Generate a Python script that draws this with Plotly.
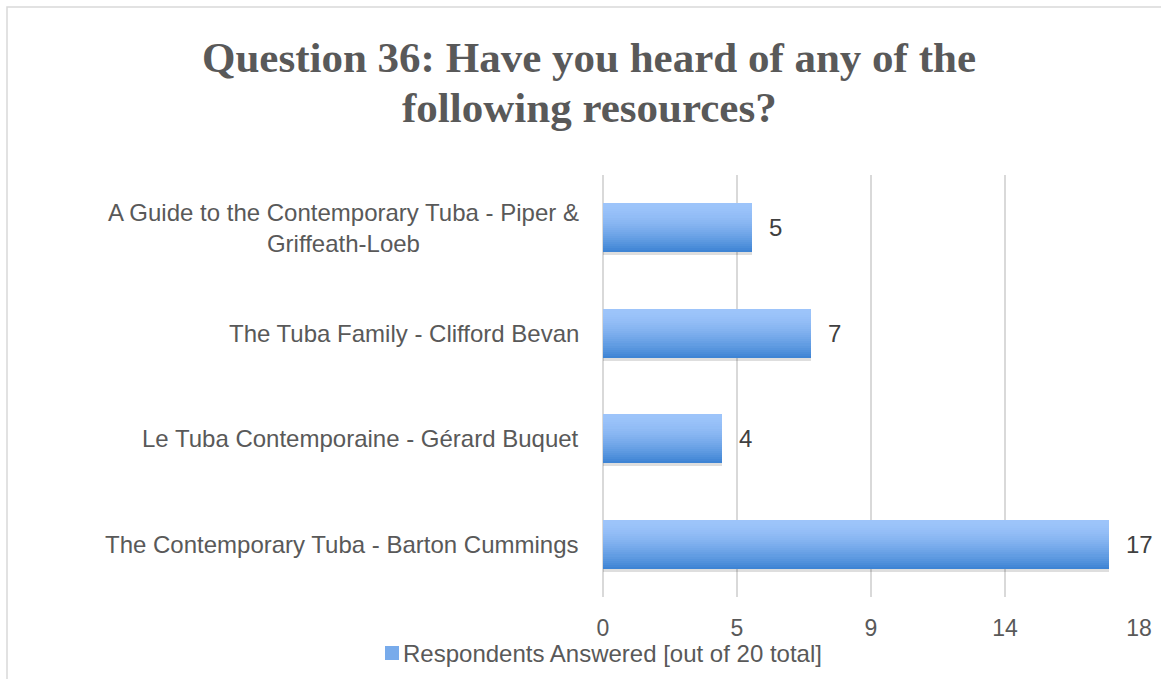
import plotly.graph_objects as go

# Survey data (top to bottom as shown)
resources = [
    "A Guide to the Contemporary Tuba - Piper &<br>Griffeath-Loeb",
    "The Tuba Family - Clifford Bevan",
    "Le Tuba Contemporaine - Gérard Buquet",
    "The Contemporary Tuba - Barton Cummings",
]
respondents = [5, 7, 4, 17]
tick_vals = [0, 4.5, 9, 13.5, 18]
tick_text = ["0", "5", "9", "14", "18"]
series_name = "Respondents Answered [out of 20 total]"
title_lines = ["Question 36: Have you heard of any of the", "following resources?"]

W, H = 1161, 679
ML, MR, MT, MB = 603, 22, 175, 82
PW, PH = W - ML - MR, H - MT - MB
BAR_W = 0.465
N_STRIPS = 24

TOP = (157, 196, 250)
BOTTOM = (62, 132, 212)
SANS = "Liberation Sans, Arial, sans-serif"


def blend(t):
    # light for most of the bar, darkening toward the lower edge
    t = t ** 1.6
    return "rgb({},{},{})".format(*[round(a + (b - a) * t) for a, b in zip(TOP, BOTTOM)])


def px_x(px):
    return (px - ML) / PW


def px_y(py):
    return (H - MB - py) / PH


fig = go.Figure()

# soft drop shadow under each bar
fig.add_trace(go.Bar(
    x=respondents, y=resources, orientation="h",
    width=BAR_W, offset=-BAR_W / 2 + 0.03,
    marker=dict(color="rgba(0,0,0,0.13)", line=dict(width=0)),
    showlegend=False, hoverinfo="skip",
))

# vertical gradient built from thin horizontal strips
strip = BAR_W / N_STRIPS
for i in range(N_STRIPS):
    fig.add_trace(go.Bar(
        x=respondents, y=resources, orientation="h",
        width=strip * 1.05, offset=-BAR_W / 2 + i * strip,
        marker=dict(color=blend(i / (N_STRIPS - 1)), line=dict(width=0)),
        name=series_name,
        showlegend=False,
        hoverinfo="x+y" if i == 0 else "skip",
    ))

# value labels beside each bar
for cat, val in zip(resources, respondents):
    fig.add_annotation(
        x=val, y=cat, xref="x", yref="y", text=str(val),
        showarrow=False, xanchor="left", xshift=15,
        font=dict(family=SANS, size=24, color="#404040"),
    )

# category labels, centred line-by-line and right-aligned to the axis
for cat in resources:
    fig.add_annotation(
        x=0, y=cat, xref="paper", yref="y", text=cat,
        showarrow=False, xanchor="right", xshift=-22, align="center",
        font=dict(family=SANS, size=24, color="#595959"),
    )

# title, one annotation per line
for line, cy in zip(title_lines, [58, 108]):
    fig.add_annotation(
        x=px_x(589), y=px_y(cy), xref="paper", yref="paper", text=f"<b>{line}</b>",
        showarrow=False, xanchor="center", yanchor="middle",
        font=dict(family="Liberation Serif, Times New Roman, serif", size=43, color="#595959"),
    )

# legend: swatch plus series name
fig.add_shape(
    type="rect", xref="paper", yref="paper",
    x0=px_x(385), x1=px_x(399), y0=px_y(660), y1=px_y(646),
    line=dict(width=0), fillcolor=blend(0.55),
)
fig.add_annotation(
    x=px_x(401), y=px_y(653), xref="paper", yref="paper", text=series_name,
    showarrow=False, xanchor="left", yanchor="middle",
    font=dict(family=SANS, size=24, color="#595959"),
)

# outer chart frame
fig.add_shape(
    type="rect", xref="paper", yref="paper",
    x0=px_x(7), x1=px_x(W + 5), y0=px_y(H + 5), y1=px_y(7),
    line=dict(color="#D9D9D9", width=1.5), fillcolor="rgba(0,0,0,0)", layer="below",
)

fig.update_layout(
    width=W, height=H,
    margin=dict(l=ML, r=MR, t=MT, b=MB, autoexpand=False),
    paper_bgcolor="white", plot_bgcolor="white",
    barmode="overlay", bargap=0,
    showlegend=False,
    xaxis=dict(
        range=[0, 18], tickvals=tick_vals, ticktext=tick_text,
        showgrid=True, gridcolor="#D9D9D9", gridwidth=1.5,
        zeroline=True, zerolinecolor="#D9D9D9", zerolinewidth=1.5,
        showline=False, ticks="",
        tickfont=dict(family=SANS, size=23, color="#595959"),
        ticklabelstandoff=15,
    ),
    yaxis=dict(
        autorange="reversed", showticklabels=False, showgrid=False,
        zeroline=False, showline=False, ticks="",
    ),
)

fig.write_html("out.html")
